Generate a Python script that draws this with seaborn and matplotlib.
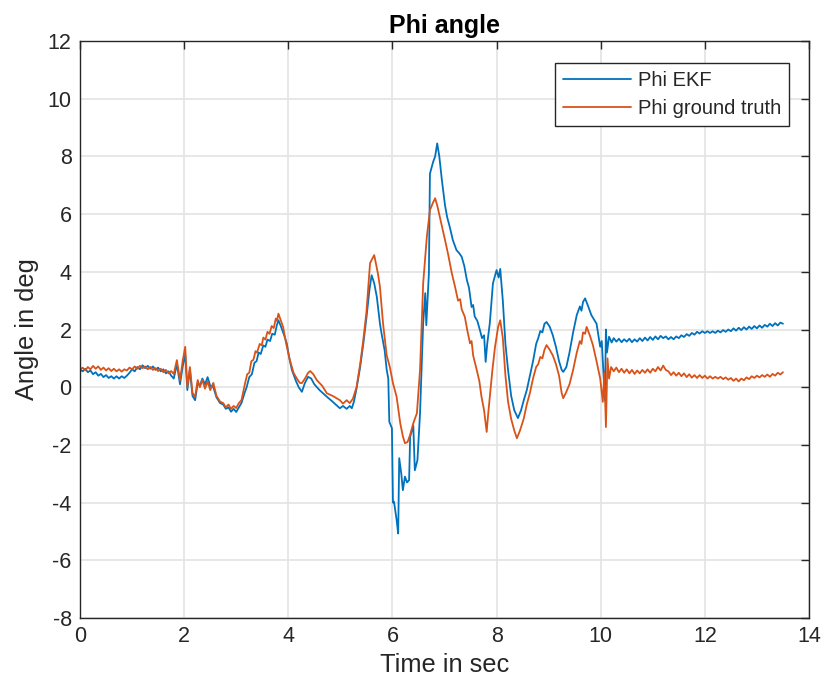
import matplotlib
matplotlib.use("Agg")
import matplotlib.pyplot as plt
import seaborn as sns
import pandas as pd

# Roll angle estimate from the EKF vs. the reference (ground truth) signal
t_ekf = [
    0.00, 0.05, 0.10, 0.15, 0.20, 0.25, 0.30, 0.35, 0.40, 0.45, 0.50, 0.55, 0.60, 0.65, 0.70,
    0.75, 0.80, 0.85, 0.90, 0.95, 1.00, 1.05, 1.10, 1.15, 1.20, 1.25, 1.30, 1.35, 1.40, 1.45,
    1.50, 1.55, 1.60, 1.65, 1.70, 1.75, 1.80, 1.86, 1.92, 1.97, 2.02, 2.06, 2.11, 2.16, 2.21,
    2.26, 2.30, 2.35, 2.40, 2.45, 2.50, 2.56, 2.62, 2.69, 2.75, 2.80, 2.85, 2.90, 2.95, 3.00,
    3.05, 3.10, 3.16, 3.20, 3.25, 3.30, 3.35, 3.39, 3.43, 3.47, 3.52, 3.56, 3.60, 3.65, 3.69,
    3.74, 3.78, 3.81, 3.86, 3.92, 3.97, 4.02,
    4.07, 4.15, 4.20, 4.26, 4.32, 4.38, 4.44, 4.50, 4.60, 4.74, 4.85, 4.99, 5.05, 5.12, 5.18,
    5.22, 5.26, 5.31, 5.38, 5.44, 5.50, 5.56, 5.60, 5.65, 5.70, 5.76, 5.79, 5.85, 5.89, 5.92,
    5.94, 5.99, 6.01, 6.03, 6.08, 6.11, 6.13, 6.17, 6.20, 6.24, 6.28, 6.32, 6.34, 6.40, 6.43,
    6.48, 6.53, 6.59, 6.63, 6.65, 6.70, 6.72, 6.78, 6.82, 6.86, 6.90, 6.95, 7.01, 7.05, 7.10,
    7.16, 7.23, 7.28, 7.33, 7.38, 7.43, 7.47, 7.52, 7.55, 7.58, 7.63, 7.68, 7.72, 7.76, 7.79,
    7.82, 7.87, 7.93, 8.00, 8.04, 8.07, 8.12, 8.17, 8.22, 8.28, 8.34, 8.41, 8.47, 8.53, 8.58,
    8.64, 8.70, 8.76, 8.80, 8.84, 8.88, 8.92, 8.96, 9.02, 9.08, 9.14, 9.20, 9.25, 9.28, 9.34,
    9.40, 9.47, 9.54, 9.60, 9.63, 9.66, 9.70, 9.76, 9.82, 9.92, 9.99, 10.02, 10.05, 10.08,
    10.10, 10.12, 10.16, 10.21, 10.25,
    10.30, 10.35, 10.40, 10.45, 10.50, 10.55, 10.60, 10.65, 10.70, 10.75, 10.80, 10.85, 10.90,
    10.95, 11.00, 11.05, 11.10, 11.15, 11.20, 11.25, 11.30, 11.35, 11.40, 11.45, 11.50, 11.55,
    11.60, 11.65, 11.70, 11.75, 11.80, 11.85, 11.90, 11.95, 12.00, 12.05, 12.10, 12.15, 12.20,
    12.25, 12.30, 12.35, 12.40, 12.45, 12.50, 12.55, 12.60, 12.65, 12.70, 12.75, 12.80, 12.85,
    12.90, 12.95, 13.00, 13.05, 13.10, 13.15, 13.20, 13.25, 13.30, 13.35, 13.40, 13.45, 13.50,
]
phi_ekf = [
    0.62, 0.55, 0.64, 0.52, 0.58, 0.45, 0.52, 0.40, 0.46, 0.35, 0.42, 0.32, 0.38, 0.30, 0.38,
    0.30, 0.38, 0.32, 0.40, 0.50, 0.62, 0.55, 0.70, 0.62, 0.76, 0.66, 0.74, 0.64, 0.72, 0.60,
    0.68, 0.55, 0.62, 0.48, 0.55, 0.40, 0.30, 0.80, 0.10, 0.70, 1.15, -0.10, 0.60, -0.30, -0.45,
    0.15, 0.05, 0.30, 0.10, 0.35, 0.05, 0.00, -0.35, -0.55, -0.60, -0.75, -0.70, -0.85, -0.75, -0.86,
    -0.70, -0.55, -0.20, 0.00, 0.35, 0.45, 0.85, 0.90, 1.20, 1.15, 1.45, 1.40, 1.65, 1.60, 1.85,
    1.82, 2.15, 2.32, 2.10, 1.80, 1.52, 1.00,
    0.59, 0.20, 0.00, -0.16, 0.15, 0.36, 0.30, 0.10, -0.10, -0.33, -0.50, -0.73, -0.65, -0.75, -0.65,
    -0.73, -0.50, -0.05, 0.70, 1.50, 2.40, 3.40, 3.88, 3.60, 3.13, 2.20, 1.87, 1.28, 0.60, 0.30,
    -1.20, -1.42, -4.00, -3.97, -4.60, -5.07, -2.46, -3.00, -3.57, -3.10, -3.30, -3.22, -1.72, -1.32, -2.88,
    -2.53, -0.90, 2.22, 3.26, 2.15, 3.95, 7.40, 7.80, 8.00, 8.45, 8.00, 7.17, 6.30, 5.90, 5.56,
    5.10, 4.75, 4.65, 4.52, 4.20, 3.71, 3.45, 2.78, 2.85, 2.45, 2.30, 1.98, 1.70, 1.80, 0.88,
    1.50, 2.22, 3.60, 4.06, 3.80, 4.10, 3.00, 1.50, 0.60, -0.30, -0.80, -1.07, -0.80, -0.40, -0.10,
    0.40, 0.90, 1.50, 1.70, 1.95, 1.90, 2.20, 2.26, 2.10, 1.80, 1.40, 0.90, 0.60, 0.53, 0.70,
    1.20, 1.90, 2.50, 2.80, 2.65, 2.95, 3.08, 2.80, 2.50, 2.20, 1.40, 1.60, 0.60, -0.45,
    2.00, 1.20, 1.75, 1.55, 1.70,
    1.58, 1.68, 1.56, 1.66, 1.58, 1.68, 1.56, 1.66, 1.58, 1.70, 1.60, 1.72, 1.62,
    1.74, 1.64, 1.76, 1.66, 1.78, 1.70, 1.76, 1.66, 1.74, 1.66, 1.76, 1.70, 1.80,
    1.74, 1.84, 1.78, 1.88, 1.82, 1.92, 1.86, 1.94, 1.88, 1.94, 1.88, 1.94, 1.88,
    1.96, 1.90, 1.98, 1.92, 2.00, 1.94, 2.04, 1.96, 2.06, 1.98, 2.08, 2.00, 2.10,
    2.02, 2.12, 2.04, 2.14, 2.06, 2.16, 2.10, 2.20, 2.12, 2.22, 2.14, 2.24, 2.20,
]

t_truth = [
    0.00, 0.05, 0.10, 0.15, 0.20, 0.25, 0.30, 0.35, 0.40, 0.45, 0.50, 0.55, 0.60, 0.65, 0.70,
    0.75, 0.80, 0.85, 0.90, 0.95, 1.00, 1.05, 1.10, 1.15, 1.20, 1.25, 1.30, 1.35, 1.40, 1.45,
    1.50, 1.55, 1.60, 1.65, 1.70, 1.75, 1.80, 1.86, 1.92, 1.97, 2.02, 2.06, 2.11, 2.16, 2.21,
    2.26, 2.30, 2.35, 2.40, 2.45, 2.50, 2.56, 2.62, 2.69, 2.75, 2.80, 2.85, 2.90, 2.95, 3.00,
    3.05, 3.10, 3.17, 3.21, 3.25, 3.29, 3.33, 3.37, 3.40, 3.45, 3.49, 3.52, 3.56, 3.60, 3.64,
    3.68, 3.72, 3.76, 3.78, 3.81, 3.85,
    3.90, 3.96, 4.03, 4.10, 4.16, 4.22, 4.26, 4.32, 4.38, 4.42, 4.48, 4.55, 4.65, 4.74, 4.85,
    4.99, 5.05, 5.12, 5.18, 5.24, 5.31, 5.38, 5.44, 5.50, 5.57, 5.65, 5.72, 5.76, 5.82, 5.89,
    5.95, 6.01, 6.08, 6.15, 6.20, 6.24, 6.29, 6.34, 6.40, 6.47, 6.53, 6.59, 6.66, 6.72, 6.78,
    6.82, 6.86, 6.91, 6.96, 7.01, 7.07, 7.14, 7.20, 7.26, 7.30, 7.33, 7.39, 7.44, 7.49, 7.52,
    7.55, 7.62, 7.67, 7.71, 7.76, 7.81, 7.84, 7.87, 7.92, 7.97, 8.03, 8.07, 8.12, 8.17, 8.22,
    8.28, 8.34, 8.39, 8.45, 8.52, 8.58, 8.64, 8.70, 8.76, 8.80, 8.84, 8.88, 8.92, 8.96, 9.02,
    9.08, 9.14, 9.20, 9.25, 9.28, 9.33, 9.40, 9.47, 9.54, 9.60, 9.63, 9.66, 9.70, 9.73, 9.79,
    9.85, 9.92, 9.99, 10.04, 10.07, 10.10,
    10.13, 10.16, 10.20, 10.25, 10.30, 10.35, 10.40, 10.45, 10.50, 10.55, 10.60, 10.65, 10.70,
    10.75, 10.80, 10.85, 10.90, 10.95, 11.00, 11.05, 11.10, 11.15, 11.20, 11.25, 11.30, 11.35,
    11.40, 11.45, 11.50, 11.55, 11.60, 11.65, 11.70, 11.75, 11.80, 11.85, 11.90, 11.95, 12.00,
    12.05, 12.10, 12.15, 12.20, 12.25, 12.30, 12.35, 12.40, 12.45, 12.50, 12.55, 12.60, 12.65,
    12.70, 12.75, 12.80, 12.85, 12.90, 12.95, 13.00, 13.05, 13.10, 13.15, 13.20, 13.25, 13.30,
    13.35, 13.40, 13.45, 13.50,
]
phi_truth = [
    0.60, 0.68, 0.58, 0.70, 0.62, 0.74, 0.64, 0.72, 0.60, 0.68, 0.58, 0.66, 0.56, 0.64, 0.55,
    0.62, 0.54, 0.62, 0.58, 0.68, 0.62, 0.72, 0.64, 0.74, 0.66, 0.72, 0.62, 0.70, 0.60, 0.66,
    0.56, 0.64, 0.52, 0.60, 0.48, 0.56, 0.46, 0.94, 0.24, 0.90, 1.40, 0.00, 0.70, -0.20, -0.33,
    0.25, 0.00, 0.25, -0.05, 0.20, -0.10, 0.15, -0.30, -0.50, -0.55, -0.70, -0.60, -0.75, -0.65, -0.72,
    -0.55, -0.45, 0.14, 0.45, 0.50, 0.90, 0.95, 1.25, 1.20, 1.50, 1.45, 1.72, 1.65, 1.92, 1.85,
    2.12, 2.05, 2.38, 2.30, 2.55, 2.35,
    2.09, 1.50, 0.94, 0.50, 0.31, 0.15, 0.14, 0.30, 0.50, 0.56, 0.45, 0.24, 0.05, -0.21, -0.30,
    -0.45, -0.57, -0.45, -0.55, -0.40, 0.00, 0.80, 1.63, 2.60, 4.30, 4.58, 3.95, 3.48, 2.20, 1.10,
    0.70, 0.14, -0.33, -1.25, -1.70, -1.94, -1.90, -1.65, -1.25, -0.90, 0.60, 3.60, 5.20, 6.14, 6.40,
    6.55, 6.30, 5.90, 5.50, 5.10, 4.60, 3.95, 3.50, 3.00, 3.05, 2.70, 2.44, 1.95, 1.52, 1.60,
    1.10, 0.59, 0.20, -0.33, -0.80, -1.55, -0.90, -0.33, 0.60, 1.40, 2.09, 2.32, 1.70, 0.40, -0.50,
    -1.10, -1.50, -1.77, -1.50, -1.10, -0.60, -0.20, 0.30, 0.70, 0.80, 1.05, 1.00, 1.30, 1.46, 1.30,
    1.10, 0.80, 0.40, -0.20, -0.38, -0.20, 0.10, 0.60, 1.20, 1.60, 1.50, 1.90, 1.85, 2.09, 1.80,
    1.46, 0.90, 0.30, -0.51, 0.50, -1.38,
    1.00, 0.30, 0.70, 0.55, 0.68, 0.52, 0.64, 0.50, 0.62, 0.48, 0.60, 0.46, 0.58,
    0.48, 0.60, 0.50, 0.62, 0.50, 0.64, 0.55, 0.70, 0.58, 0.75, 0.60, 0.55, 0.42,
    0.52, 0.40, 0.50, 0.38, 0.48, 0.35, 0.45, 0.33, 0.42, 0.32, 0.42, 0.32, 0.40,
    0.30, 0.38, 0.30, 0.36, 0.30, 0.36, 0.28, 0.34, 0.26, 0.32, 0.22, 0.30, 0.20,
    0.30, 0.24, 0.34, 0.28, 0.38, 0.32, 0.40, 0.34, 0.42, 0.36, 0.44, 0.36, 0.46,
    0.40, 0.50, 0.44, 0.52,
]

x_ticks = [0, 2, 4, 6, 8, 10, 12, 14]
y_ticks = [-8, -6, -4, -2, 0, 2, 4, 6, 8, 10, 12]

df_ekf = pd.DataFrame({"t": t_ekf, "phi": phi_ekf})
df_truth = pd.DataFrame({"t": t_truth, "phi": phi_truth})

sns.set_style("white")
plt.rcParams["font.family"] = ["Liberation Sans", "DejaVu Sans"]
plt.rcParams["axes.unicode_minus"] = False

fig = plt.figure(figsize=(8.26, 6.91), dpi=100)
ax = fig.add_axes([0.0969, 0.1056, 0.8825, 0.8351])

sns.lineplot(data=df_ekf, x="t", y="phi", ax=ax, color="#0072BD",
             linewidth=1.3, label="Phi EKF", estimator=None, sort=False)
sns.lineplot(data=df_truth, x="t", y="phi", ax=ax, color="#D95319",
             linewidth=1.3, label="Phi ground truth", estimator=None, sort=False)

ax.set_xlim(0, 14)
ax.set_ylim(-8, 12)
ax.set_xticks(x_ticks)
ax.set_yticks(y_ticks)
ax.grid(True, color="#e3e3e3", linewidth=1.2)
ax.set_axisbelow(True)

for side in ["top", "right", "bottom", "left"]:
    ax.spines[side].set_visible(True)
    ax.spines[side].set_color("#262626")
    ax.spines[side].set_linewidth(1.0)

ax.tick_params(axis="both", which="both", direction="in", length=6, width=1.0,
               color="#262626", labelsize=15.5, labelcolor="#262626",
               top=True, right=True, pad=6)

ax.set_xlabel("Time in sec", fontsize=18.3, color="#262626", labelpad=4)
ax.set_ylabel("Angle in deg", fontsize=18.3, color="#262626", labelpad=6)
ax.set_title("Phi angle", fontsize=18, fontweight="bold", color="black", pad=6)

leg = ax.legend(loc="upper right", bbox_to_anchor=(0.9726, 0.9619), borderaxespad=0,
                fontsize=14.5, frameon=True, fancybox=False, handlelength=3.35,
                handletextpad=0.35, borderpad=0.4, labelspacing=0.45)
leg.get_frame().set_edgecolor("#262626")
leg.get_frame().set_linewidth(1.0)
leg.get_frame().set_alpha(1.0)

fig.savefig("out.png", dpi=100)
